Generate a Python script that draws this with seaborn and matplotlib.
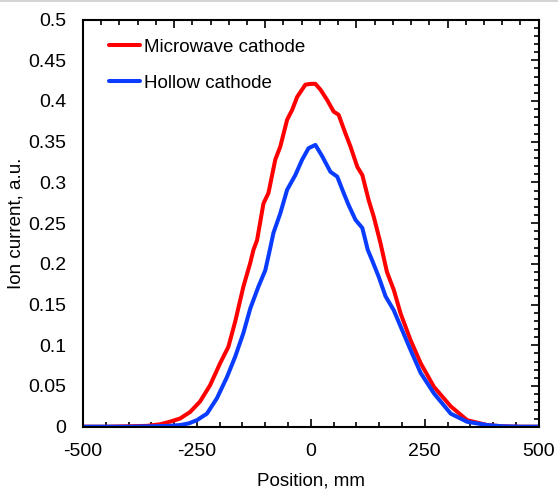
import numpy as np
import pandas as pd
import seaborn as sns
import matplotlib.pyplot as plt
from matplotlib.ticker import MultipleLocator
from matplotlib.lines import Line2D

# values
mw_x = [-500, -450, -400, -360, -330, -310, -287, -265, -243, -221, -199, -181, -166,
        -148, -133, -126, -118, -104, -93, -78, -67, -52, -41, -30, -12, 0, 10, 21,
        36, 50, 61, 76, 87, 102, 113, 127, 138, 153, 167, 182, 197, 219, 241, 270,
        307, 343, 387, 420, 460, 500]
mw_y = [0.0, 0.0, 0.0005, 0.001, 0.003, 0.006, 0.010, 0.018, 0.031, 0.051, 0.078,
        0.098, 0.129, 0.172, 0.201, 0.217, 0.229, 0.274, 0.287, 0.328, 0.344, 0.377,
        0.389, 0.405, 0.420, 0.421, 0.421, 0.414, 0.401, 0.387, 0.383, 0.360, 0.344,
        0.319, 0.309, 0.278, 0.258, 0.225, 0.190, 0.168, 0.139, 0.106, 0.078, 0.049,
        0.025, 0.008, 0.002, 0.0005, 0.0, 0.0]

hc_x = [-500, -450, -400, -350, -310, -287, -268, -250, -228, -206, -184, -166, -148,
        -133, -115, -100, -92, -82, -67, -52, -34, -19, -5, 10, 25, 43, 58, 72, 83,
        98, 113, 125, 134, 149, 164, 182, 197, 219, 241, 270, 307, 343, 387, 420,
        460, 500]
hc_y = [0.0, 0.0, 0.0, 0.0005, 0.001, 0.002, 0.004, 0.008, 0.016, 0.035, 0.061, 0.086,
        0.115, 0.145, 0.172, 0.192, 0.212, 0.238, 0.262, 0.291, 0.309, 0.328, 0.342,
        0.346, 0.332, 0.313, 0.307, 0.287, 0.272, 0.254, 0.244, 0.217, 0.205, 0.184,
        0.160, 0.143, 0.123, 0.094, 0.066, 0.041, 0.016, 0.006, 0.002, 0.0005, 0.0, 0.0]

labels = ['Microwave cathode', 'Hollow cathode']
colors = ['#ff0000', '#0a3cff']

sns.set_style('white')
plt.rcParams['font.family'] = ['Liberation Sans', 'DejaVu Sans']
plt.rcParams['axes.unicode_minus'] = False
plt.rcParams['text.color'] = 'black'
plt.rcParams['axes.labelcolor'] = 'black'
plt.rcParams['xtick.color'] = 'black'
plt.rcParams['ytick.color'] = 'black'

fig = plt.figure(figsize=(5.58, 4.93), dpi=100)
ax = fig.add_axes([0.1487, 0.1345, 0.8167, 0.8259])

sns.lineplot(x=mw_x, y=mw_y, ax=ax, color=colors[0], linewidth=2.9, label=labels[0])
sns.lineplot(x=hc_x, y=hc_y, ax=ax, color=colors[1], linewidth=2.9, label=labels[1])
for ln in ax.lines:
    ln.set_solid_joinstyle('round')

ax.set_xlim(-500, 500)
ax.set_ylim(0, 0.5)
ax.xaxis.set_major_locator(MultipleLocator(250))
ax.xaxis.set_minor_locator(MultipleLocator(50))
ax.yaxis.set_major_locator(MultipleLocator(0.05))
ax.yaxis.set_minor_locator(MultipleLocator(0.01))
ax.yaxis.set_major_formatter(plt.FuncFormatter(lambda v, p: ('%.2f' % v).rstrip('0').rstrip('.') if v else '0'))

ax.tick_params(which='both', direction='in', color='black', right=True, labelsize=14)
ax.tick_params(which='major', length=5.5, width=1.2)
ax.tick_params(which='minor', length=3.5, width=1.2)
ax.tick_params(axis='y', pad=12)
ax.tick_params(axis='x', pad=12)
for s in ax.spines.values():
    s.set_color('black')
    s.set_linewidth(1.5)

# top axis has its own tick spacing
top = ax.twiny()
top.set_xlim(-500, 500)
top.xaxis.set_major_locator(MultipleLocator(200, offset=100))
top.xaxis.set_minor_locator(MultipleLocator(40, offset=-20))
top.tick_params(which='both', direction='in', labeltop=False, width=1.2)
top.tick_params(which='major', length=5.5)
top.tick_params(which='minor', length=3.5)
for s in top.spines.values():
    s.set_visible(False)

ax.set_xlabel('Position, mm', fontsize=13.5, labelpad=9)
ax.set_ylabel('Ion current, a.u.', fontsize=13.5, labelpad=3)

leg = ax.legend(loc='upper left', frameon=False, fontsize=13.5, handlelength=1.65,
                handletextpad=0.2, labelspacing=1.0, borderaxespad=0.4,
                bbox_to_anchor=(0.025, 0.99))

fig.add_artist(Line2D([0, 1], [0.998, 0.998], transform=fig.transFigure,
                      color='#cccccc', linewidth=1.2))

fig.savefig('out.png', dpi=100)
